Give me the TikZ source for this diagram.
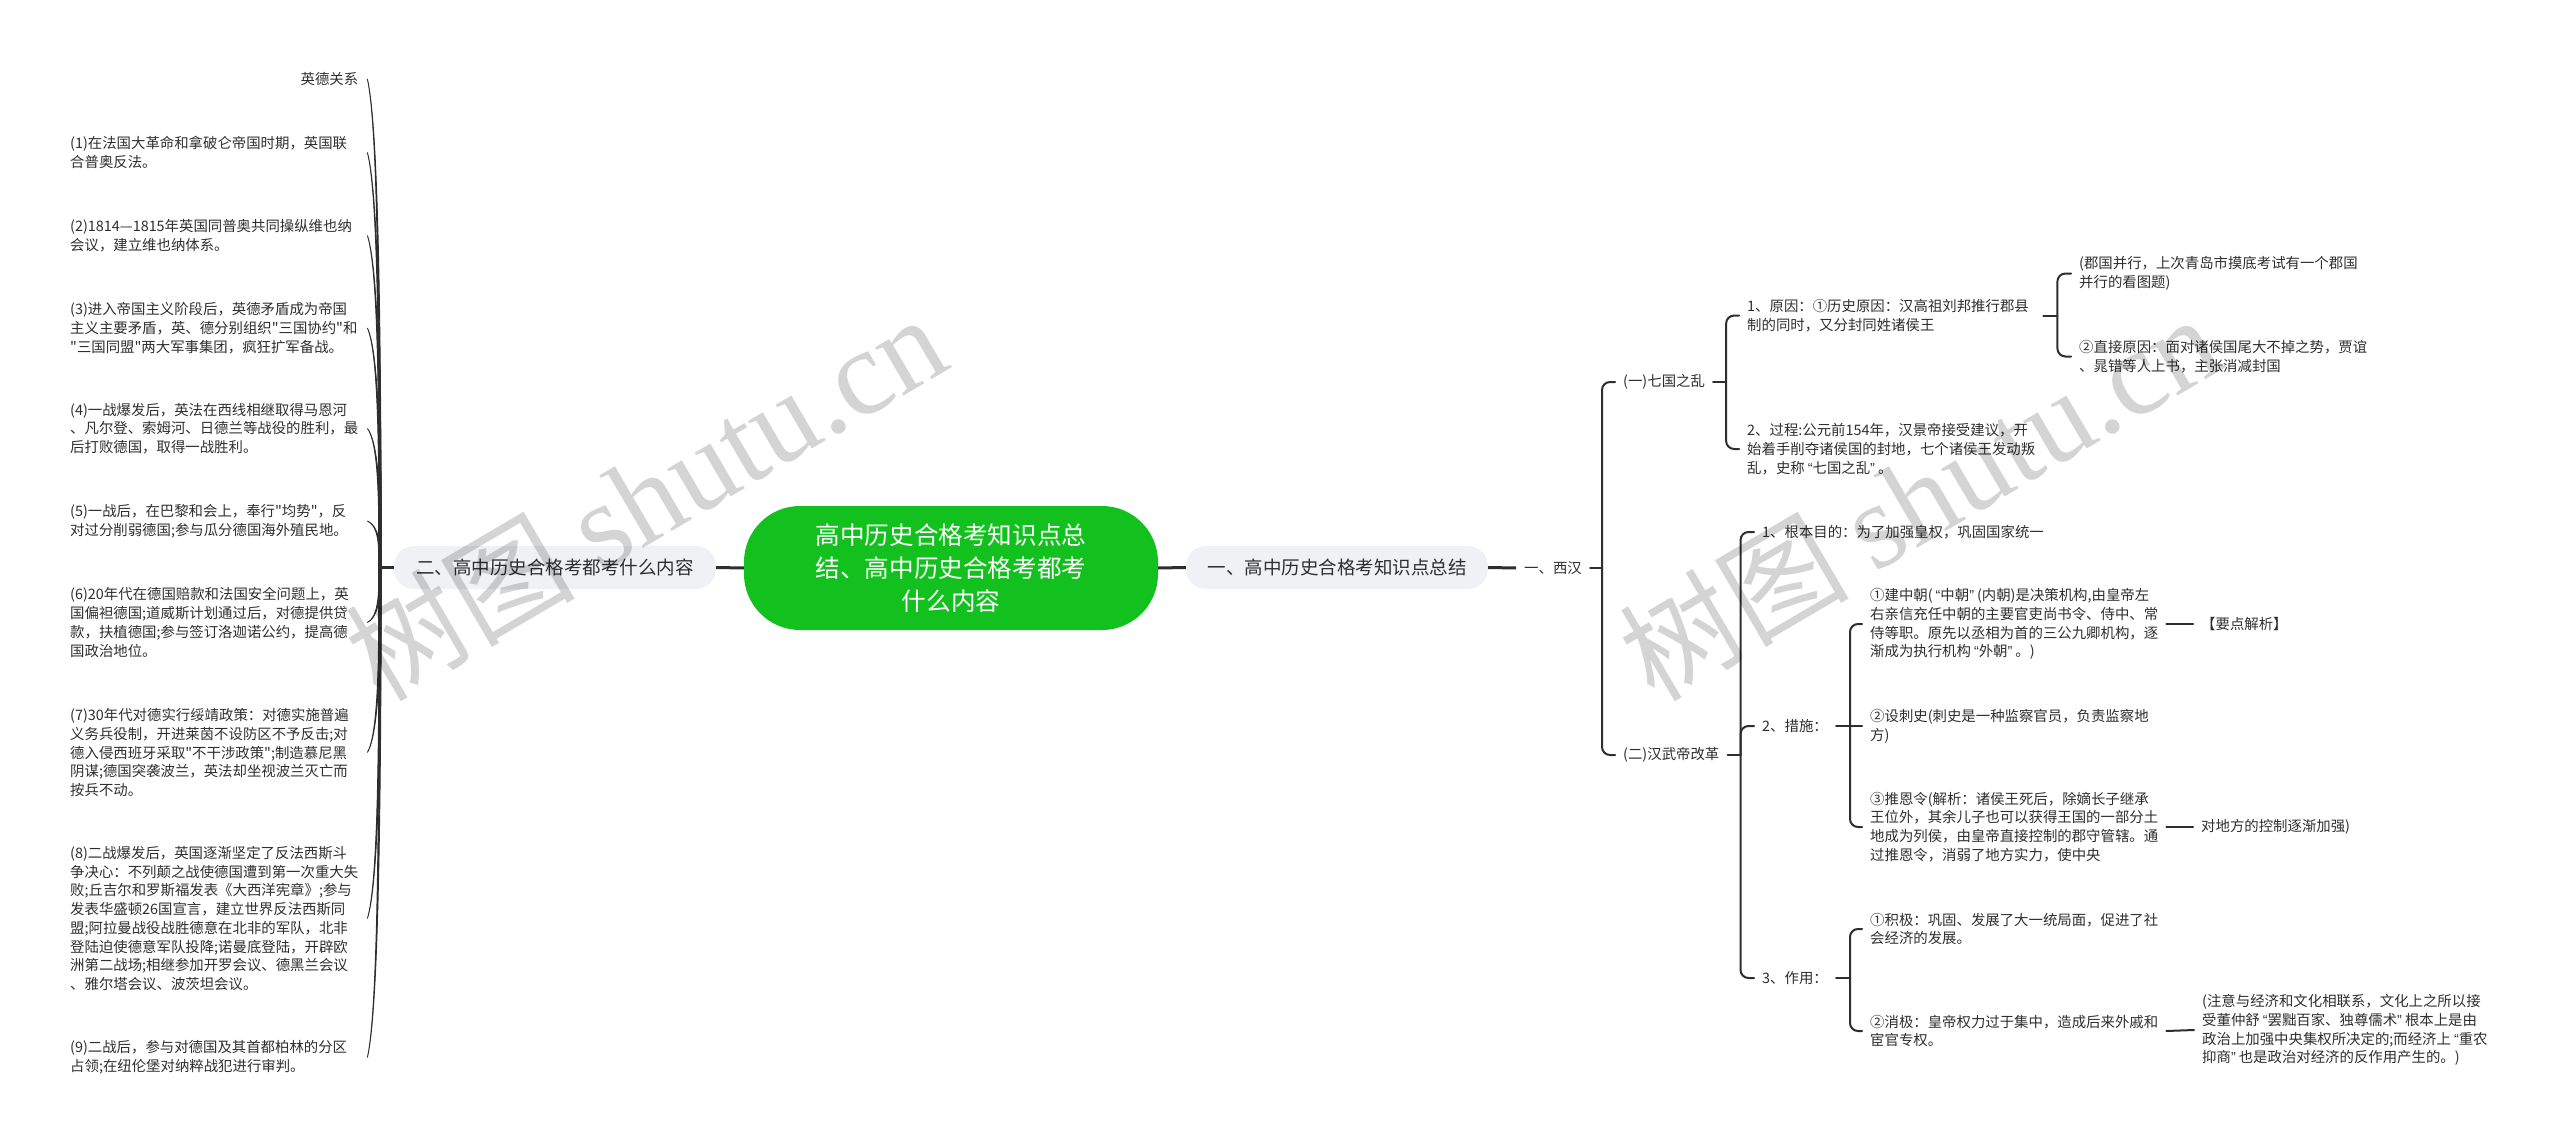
\documentclass[tikz,border=0pt]{standalone}
\usepackage{fontspec}
\newfontfamily\cnfont{Noto Sans CJK SC}
\newfontfamily\wmlatin{Liberation Serif}
\newfontfamily\qfont{Liberation Sans}
\newcommand{\oq}{\kern3pt{\qfont “}}
\newcommand{\cq}{{\qfont ”}\kern3pt}
\usetikzlibrary{calc}
\definecolor{ink}{HTML}{2E2E2E}
\definecolor{rootgreen}{HTML}{12C11E}
\definecolor{pale}{HTML}{EFF2F5}
\tikzset{
  txt/.style={inner xsep=8pt,inner ysep=0pt,text=ink,font=\cnfont\fontsize{14.4}{18.7}\selectfont,anchor=west},
  blk/.style={txt,text width=288pt,align=left},
  lblk/.style={blk,inner xsep=9pt},
  lblkr/.style={lblk,align=right},
  l1/.style={inner sep=0pt,fill=pale,rounded corners=20pt,minimum height=43pt,text=ink,font=\cnfont\fontsize{18.5}{22}\selectfont},
  rootn/.style={inner sep=0pt,fill=rootgreen,rounded corners=56pt,minimum width=414pt,minimum height=124pt,text=white,align=center,font=\cnfont\fontsize{24.6}{33}\selectfont},
  conn/.style={draw=ink,line width=2pt,line cap=round},
  thick conn/.style={draw=ink,line width=3pt},
  elbow/.style={conn,rounded corners=8pt},
  taper/.style={fill=ink,draw=ink,line width=.9pt},
  wm/.style={text=black,opacity=.17,text opacity=.17,rotate=30.4,inner sep=0pt,font=\cnfont\fontsize{115}{115}\selectfont}
}
\newcommand{\taperto}[1]{%
  \path[taper] let \p1=(#1.east),\p2=(lhub) in
   (\p1) .. controls ({\x1+.85*(\x2-\x1)},{\y1+.1*(\y2-\y1)}) and ({\x1+.95*(\x2-\x1)},{\y1+.5*(\y2-\y1)}) .. ({\x2-1.4pt},\y2)
   -- ({\x2+1.4pt},\y2)
   .. controls ({\x1+.95*(\x2-\x1)+1.4pt},{\y1+.5*(\y2-\y1)}) and ({\x1+.85*(\x2-\x1)+.6pt},{\y1+.1*(\y2-\y1)}) .. (\p1) -- cycle;}
\newcommand{\branch}[2]{\draw[elbow] (#1) |- (#2.west);}
\begin{document}
\begin{tikzpicture}[x=1pt,y=-1pt]
\useasboundingbox (0,0) rectangle (2560,1145);
% root and first level
\node[rootn] (root) at (951,568) {高中历史合格考知识点总\\结、高中历史合格考都考\\什么内容};
\node[l1,minimum width=322pt] (two) at (555,567.5) {二、高中历史合格考都考什么内容};
\node[l1,minimum width=302pt] (one) at (1337,567.5) {一、高中历史合格考知识点总结};
% left branch
\node[lblkr] (e0) at (61,79) {英德关系};
\node[lblk] (e1) at (61,152.5) {(1)在法国大革命和拿破仑帝国时期，英国联\\合普奥反法。};
\node[lblk] (e2) at (61,235.5) {(2)1814—1815年英国同普奥共同操纵维也纳\\会议，建立维也纳体系。};
\node[lblk] (e3) at (61,328) {(3)进入帝国主义阶段后，英德矛盾成为帝国\\主义主要矛盾，英、德分别组织"三国协约"和\\"三国同盟"两大军事集团，疯狂扩军备战。};
\node[lblk] (e4) at (61,428.5) {(4)一战爆发后，英法在西线相继取得马恩河\\、凡尔登、索姆河、日德兰等战役的胜利，最\\后打败德国，取得一战胜利。};
\node[lblk] (e5) at (61,521) {(5)一战后，在巴黎和会上，奉行"均势"，反\\对过分削弱德国;参与瓜分德国海外殖民地。};
\node[lblk] (e6) at (61,622.5) {(6)20年代在德国赔款和法国安全问题上，英\\国偏袒德国;道威斯计划通过后，对德提供贷\\款，扶植德国;参与签订洛迦诺公约，提高德\\国政治地位。};
\node[lblk] (e7) at (61,752.5) {(7)30年代对德实行绥靖政策：对德实施普遍\\义务兵役制，开进莱茵不设防区不予反击;对\\德入侵西班牙采取"不干涉政策";制造慕尼黑\\阴谋;德国突袭波兰，英法却坐视波兰灭亡而\\按兵不动。};
\node[lblk] (e8) at (61,918.5) {(8)二战爆发后，英国逐渐坚定了反法西斯斗\\争决心：不列颠之战使德国遭到第一次重大失\\败;丘吉尔和罗斯福发表《大西洋宪章》;参与\\发表华盛顿26国宣言，建立世界反法西斯同\\盟;阿拉曼战役战胜德意在北非的军队，北非\\登陆迫使德意军队投降;诺曼底登陆，开辟欧\\洲第二战场;相继参加开罗会议、德黑兰会议\\、雅尔塔会议、波茨坦会议。};
\node[lblk] (e9) at (61,1057.5) {(9)二战后，参与对德国及其首都柏林的分区\\占领;在纽伦堡对纳粹战犯进行审判。};
\coordinate (lhub) at (380,567.5);
% right branch
\node[txt] (xh) at (1516,568) {一、西汉};
\node[txt] (qg) at (1615,382) {(一)七国之乱};
\node[txt] (hw) at (1615,755) {(二)汉武帝改革};
\node[blk] (yy) at (1739,315.5) {1、原因：①历史原因：汉高祖刘邦推行郡县\\制的同时，又分封同姓诸侯王};
\node[blk] (gc) at (1739,449) {2、过程:公元前154年，汉景帝接受建议，开\\始着手削夺诸侯国的封地，七个诸侯王发动叛\\乱，史称\oq 七国之乱\cq 。};
\node[blk] (jg) at (2071,273.5) {(郡国并行，上次青岛市摸底考试有一个郡国\\并行的看图题)};
\node[blk] (zj) at (2071,356.5) {②直接原因：面对诸侯国尾大不掉之势，贾谊\\、晁错等人上书，主张消减封国};
\node[txt] (gb) at (1754,532) {1、根本目的：为了加强皇权，巩固国家统一};
\node[txt] (cs) at (1754,726) {2、措施：};
\node[txt] (zy) at (1754,978) {3、作用：};
\node[blk] (jz) at (1862,624) {①建中朝(\oq 中朝\cq (内朝)是决策机构,由皇帝左\\右亲信充任中朝的主要官吏尚书令、侍中、常\\侍等职。原先以丞相为首的三公九卿机构，逐\\渐成为执行机构\oq 外朝\cq 。)};
\node[blk] (cc) at (1862,726) {②设刺史(刺史是一种监察官员，负责监察地\\方)};
\node[blk] (te) at (1862,827) {③推恩令(解析：诸侯王死后，除嫡长子继承\\王位外，其余儿子也可以获得王国的一部分土\\地成为列侯，由皇帝直接控制的郡守管辖。通\\过推恩令，消弱了地方实力，使中央};
\node[txt] (yd) at (2193,624) {【要点解析】};
\node[txt] (df) at (2193,827) {对地方的控制逐渐加强)};
\node[blk] (jj) at (1862,929) {①积极：巩固、发展了大一统局面，促进了社\\会经济的发展。};
\node[blk] (xj) at (1862,1031) {②消极：皇帝权力过于集中，造成后来外戚和\\宦官专权。};
\node[blk,text width=340pt] (zh) at (2194,1030) {(注意与经济和文化相联系，文化上之所以接\\受董仲舒\oq 罢黜百家、独尊儒术\cq 根本上是由\\政治上加强中央集权所决定的;而经济上\oq 重农\\抑商\cq 也是政治对经济的反作用产生的。)};
% hubs on the parents' right
\coordinate (hxh) at ([xshift=12pt]xh.east);
\coordinate (hqg) at ([xshift=13pt]qg.east);
\coordinate (hyy) at ([xshift=14pt]yy.east);
\coordinate (hhw) at ([xshift=13pt]hw.east);
\coordinate (hcs) at ([xshift=14pt]cs.east);
\coordinate (hzy) at ([xshift=14pt]zy.east);
% connectors
\draw[thick conn] (root.west) -- (two.east);
\draw[thick conn] (root.east) -- (one.west);
\draw[thick conn] (one.east) -- (xh.west);
\draw[thick conn] (two.west) -- (lhub);
\foreach \nm in {e0,e1,e2,e3,e4,e5,e6,e7,e8,e9}{\expandafter\taperto\expandafter{\nm}}
\draw[conn] (xh.east) -- (hxh);
\branch{hxh}{qg}\branch{hxh}{hw}
\draw[conn] (qg.east) -- (hqg);
\branch{hqg}{yy}\branch{hqg}{gc}
\draw[conn] (yy.east) -- (hyy);
\branch{hyy}{jg}\branch{hyy}{zj}
\draw[conn] (hw.east) -- (hhw);
\branch{hhw}{gb}\branch{hhw}{cs}\branch{hhw}{zy}
\draw[conn] (cs.east) -- (hcs);
\branch{hcs}{jz}\branch{hcs}{te}
\draw[conn] (hcs) -- (cc.west);
\draw[conn] (zy.east) -- (hzy);
\branch{hzy}{jj}\branch{hzy}{xj}
\draw[conn] (jz.east) -- (yd.west);
\draw[conn] (te.east) -- (df.west);
\draw[conn] (xj.east) -- (zh.west);
% watermarks
\node[wm] (wm1) at (645,497) {树图 {\wmlatin\fontsize{122}{122}\selectfont shutu.cn}};
\node[wm] (wm2) at (1919,497) {树图 {\wmlatin\fontsize{122}{122}\selectfont shutu.cn}};
\end{tikzpicture}
\end{document}
